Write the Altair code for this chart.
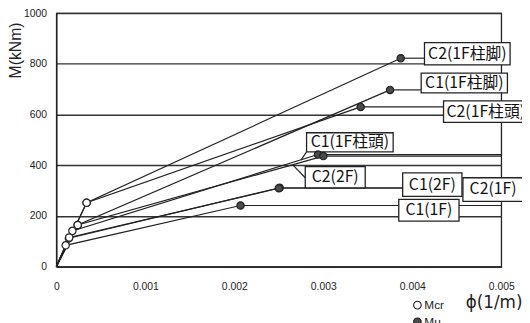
import altair as alt
import pandas as pd

# ---- data ----
series = ["C2(1F柱脚)", "C1(1F柱脚)", "C2(1F柱頭)", "C1(1F柱頭)",
          "C2(2F)", "C1(2F)", "C2(1F)", "C1(1F)"]
mcr_phi = [0.00034, 0.00024, 0.00034, 0.00018, 0.00024, 0.000141, 0.000145, 0.000105]
mcr_m = [252, 164, 252, 141, 164, 112, 115, 84]
mu_phi = [0.00387, 0.00375, 0.00342, 0.00294, 0.00300, 0.00251, 0.00250, 0.00207]
mu_m = [822, 697, 630, 442, 436, 311, 309, 241]

# label boxes (data units) and leader ends
box_x0 = [0.004137, 0.0041, 0.004351, 0.002812, 0.002797, 0.003892, 0.004569, 0.003848]
box_x1 = [0.005099, 0.005069, 0.0053, 0.003785, 0.003471, 0.004558, 0.005246, 0.004525]
box_m0 = [795.8, 685.6, 569.1, 452.6, 310.6, 276.8, 257.4, 179.7]
box_m1 = [883.5, 763.2, 653.3, 528.0, 394.4, 370.0, 350.5, 265.0]
lead_end = [0.004137, 0.0041, 0.004351, 0.005, 0.005, 0.003892, 0.004569, 0.005]

# slanted pointer leaders (C1(1F柱頭), C2(2F))
slant_x0 = [0.002749, 0.002657]
slant_x1 = [0.002812, 0.002797]
slant_m0 = [420.0, 401.0]
slant_m1 = [452.6, 350.5]

x_ticks = [0, 0.001, 0.002, 0.003, 0.004, 0.005]
y_ticks = [0, 200, 400, 600, 800, 1000]
legend_types = ["Mcr", "Mu"]

# ---- tables ----
line_rows = []
for i, s in enumerate(series):
    line_rows.append(dict(series=s, k=0, phi=0.0, M=0.0))
    line_rows.append(dict(series=s, k=1, phi=mcr_phi[i], M=mcr_m[i]))
    line_rows.append(dict(series=s, k=2, phi=mu_phi[i], M=mu_m[i]))
lines_df = pd.DataFrame(line_rows)

pt_rows = []
for i, s in enumerate(series):
    pt_rows.append(dict(series=s, type="Mcr", phi=mcr_phi[i], M=mcr_m[i]))
for i, s in enumerate(series):
    pt_rows.append(dict(series=s, type="Mu", phi=mu_phi[i], M=mu_m[i]))
pts_df = pd.DataFrame(pt_rows)

lead_rows = []
for i in range(len(series)):
    lead_rows.append(dict(x0=mu_phi[i], x1=lead_end[i], m0=mu_m[i], m1=mu_m[i]))
for j in range(len(slant_x0)):
    lead_rows.append(dict(x0=slant_x0[j], x1=slant_x1[j], m0=slant_m0[j], m1=slant_m1[j]))
lead_df = pd.DataFrame(lead_rows)

box_df = pd.DataFrame(dict(label=series, x0=box_x0, x1=box_x1, m0=box_m0, m1=box_m1))
box_df["xc"] = (box_df["x0"] + box_df["x1"]) / 2
box_df["mc"] = (box_df["m0"] + box_df["m1"]) / 2

# ---- scales / axes ----
xs = alt.Scale(domain=[0, 0.005], nice=False, zero=False)
ys = alt.Scale(domain=[0, 1000], nice=False, zero=False)

x_axis = alt.Axis(values=x_ticks, format="~g", grid=False, ticks=False,
                  labelPadding=15, labelFlush=False, labelOverlap=False,
                  labelFontSize=10.5, labelFont="Liberation Sans", labelColor="#222",
                  domainColor="#222", domainWidth=1.3,
                  title="ϕ(1/m)", titleFont="DejaVu Sans", titleFontSize=17,
                  titleFontWeight="normal", titleColor="#222",
                  titleAlign="right", titleBaseline="alphabetic",
                  titleX=472, titleY=41)
y_axis = alt.Axis(values=y_ticks, format="d", grid=True, gridColor="#333", gridWidth=1.5,
                  ticks=False, labelPadding=10, labelFlush=False, labelOverlap=False,
                  labelFontSize=10.5, labelFont="Liberation Sans", labelColor="#222",
                  domainColor="#222", domainWidth=1.3,
                  title="M(kNm)", titleFont="Liberation Sans", titleFontSize=16,
                  titleFontWeight="normal", titleColor="#222",
                  titleAngle=270, titleAlign="right", titleBaseline="alphabetic",
                  titleX=-36, titleY=9)

lines = alt.Chart(lines_df).mark_line(color="#222", strokeWidth=1.2).encode(
    x=alt.X("phi:Q", scale=xs, axis=x_axis),
    y=alt.Y("M:Q", scale=ys, axis=y_axis),
    detail="series:N",
    order="k:Q",
)

leaders = alt.Chart(lead_df).mark_rule(color="#222", strokeWidth=1.2).encode(
    x=alt.X("x0:Q", scale=xs, axis=x_axis),
    x2="x1:Q",
    y=alt.Y("m0:Q", scale=ys, axis=y_axis),
    y2="m1:Q",
)

boxes = alt.Chart(box_df).mark_rect(fill="white", stroke="#222", strokeWidth=1.3).encode(
    x=alt.X("x0:Q", scale=xs, axis=x_axis),
    x2="x1:Q",
    y=alt.Y("m0:Q", scale=ys, axis=y_axis),
    y2="m1:Q",
)

texts = alt.Chart(box_df).mark_text(font="Noto Sans CJK JP", fontSize=16,
                                    align="center", baseline="middle",
                                    color="#111").encode(
    x=alt.X("xc:Q", scale=xs, axis=x_axis),
    y=alt.Y("mc:Q", scale=ys, axis=y_axis),
    text="label:N",
)

points = alt.Chart(pts_df).mark_point(filled=True, shape="circle", size=55,
                                      stroke="#222", strokeWidth=1.2, opacity=1).encode(
    x=alt.X("phi:Q", scale=xs, axis=x_axis),
    y=alt.Y("M:Q", scale=ys, axis=y_axis),
    fill=alt.Fill("type:N",
                  scale=alt.Scale(domain=legend_types, range=["white", "#4a4a4a"]),
                  legend=alt.Legend(orient="none", legendX=360, legendY=290,
                                    title=None, symbolType="circle", symbolSize=60,
                                    symbolStrokeColor="#222", symbolStrokeWidth=1.1,
                                    labelFontSize=12, labelFont="Liberation Sans",
                                    labelColor="#222", rowPadding=3, labelOffset=1,
                                    padding=0)),
)

chart = alt.layer(lines, leaders, boxes, texts, points).properties(
    width=451, height=257,
    autosize=alt.AutoSizeParams(type="none"),
    padding={"left": 49, "top": 3, "right": 21, "bottom": 55},
    background="white",
).configure_view(stroke="#222", strokeWidth=1.3)

chart.save("out.html", embed_options={"renderer": "svg", "actions": False})
